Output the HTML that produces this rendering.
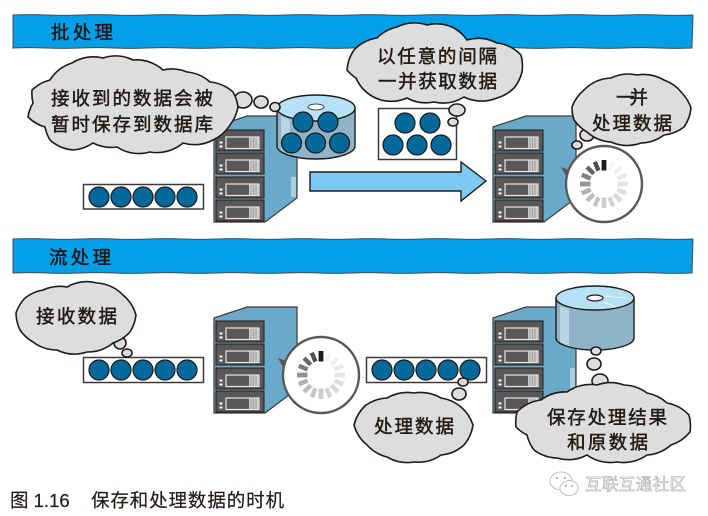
<!DOCTYPE html>
<html><head><meta charset="utf-8">
<style>
html,body{margin:0;padding:0;background:#fff}
svg{display:block}
.h{font-family:"Liberation Sans","Noto Sans CJK SC",sans-serif;font-size:18.5px;fill:#231815;stroke:#231815;stroke-width:.45}
.c{font-family:"Liberation Sans","Noto Sans CJK SC",sans-serif;font-size:18.5px;fill:#231815;stroke:#231815;stroke-width:.2}
.w{font-family:"Liberation Sans","Noto Sans CJK SC",sans-serif;font-size:16.5px;fill:#fff;stroke:#999;stroke-width:.5}
.cl{fill:#dcdddd;stroke:#231815;stroke-width:1.6}
.strip{fill:#fff;stroke:#3e3a39;stroke-width:1.5}
.d{fill:#00689b;stroke:#231815;stroke-width:1.2}
</style></head><body>
<svg width="708" height="516" viewBox="0 0 708 516" xmlns="http://www.w3.org/2000/svg">
<defs>
<g id="panel">
<rect x="0" y="0" width="48" height="21" fill="#595757" stroke="#231815" stroke-width="1"/>
<rect x="10" y="7" width="33" height="11.500" fill="#595757" stroke="#e6e6e6" stroke-width="1.2"/>
<rect x="33" y="7.500" width="10" height="10.500" fill="#c9caca"/>
<path d="M35 7.500v10.500M37.500 7.500v10.500M40 7.500v10.500" stroke="#8a8a8a" stroke-width=".7"/>
<rect x="3.500" y="11.500" width="3" height="2" fill="#fff"/><rect x="3.500" y="15.500" width="3" height="2" fill="#fff"/>
</g>
<g id="server">
<path d="M214 127L247 116H297V198L265 222H214Z" fill="#69a9c9" stroke="#3e3a39" stroke-width="1.2"/>
<use href="#panel" x="216" y="130"/><use href="#panel" x="216" y="153"/>
<use href="#panel" x="216" y="177"/><use href="#panel" x="216" y="200"/>
<rect x="291" y="177" width="5" height="20" fill="#a8cfe0"/>
</g>
<g id="spin">
<circle r="38" fill="#fff" stroke="#595757" stroke-width="2.4"/>
<g>
<rect x="-2.400" y="-24" width="4.800" height="10.500" fill="#231815"/>
<rect x="-2.200" y="-24" width="4.400" height="9.500" fill="#f5f5f5" transform="rotate(22.5)"/>
<rect x="-2.200" y="-24" width="4.400" height="9.500" fill="#efefef" transform="rotate(45)"/>
<rect x="-2.200" y="-24" width="4.400" height="9.500" fill="#e8e8e8" transform="rotate(67.5)"/>
<rect x="-2.400" y="-24" width="4.800" height="10.500" fill="#e4e4e4" transform="rotate(90)"/>
<rect x="-2.200" y="-24" width="4.400" height="9.500" fill="#dedede" transform="rotate(112.5)"/>
<rect x="-2.200" y="-24" width="4.400" height="9.500" fill="#d8d8d8" transform="rotate(135)"/>
<rect x="-2.200" y="-24" width="4.400" height="9.500" fill="#d2d2d2" transform="rotate(157.5)"/>
<rect x="-2.400" y="-24" width="4.800" height="10.500" fill="#cccccc" transform="rotate(180)"/>
<rect x="-2.200" y="-24" width="4.400" height="9.500" fill="#c4c4c4" transform="rotate(202.5)"/>
<rect x="-2.200" y="-24" width="4.400" height="9.500" fill="#bcbcbc" transform="rotate(225)"/>
<rect x="-2.200" y="-24" width="4.400" height="9.500" fill="#b0b0b0" transform="rotate(247.5)"/>
<rect x="-2.400" y="-24" width="4.800" height="10.500" fill="#939393" transform="rotate(270)"/>
<rect x="-2.200" y="-24" width="4.400" height="9.500" fill="#7d7d7d" transform="rotate(292.5)"/>
<rect x="-2.200" y="-24" width="4.400" height="9.500" fill="#666" transform="rotate(315)"/>
<rect x="-2.200" y="-24" width="4.400" height="9.500" fill="#4d4d4d" transform="rotate(337.5)"/>
</g>
</g>
</defs>

<!-- banners -->
<path d="M13 15q17-.7 34 0t34 0t34 0t34 0t34 0t34 0t34 0t34 0t34 0t34 0t34 0t34 0t34 0t34 0t34 0t34 0t34 0t34 0t34 0t34 0L692 48q-17 .7-34 0t-34 0t-34 0t-34 0t-34 0t-34 0t-34 0t-34 0t-34 0t-34 0t-34 0t-34 0t-34 0t-34 0t-34 0t-34 0t-34 0t-34 0t-34 0t-33 0Z" fill="#009fe8" stroke="#4a4a4a" stroke-width="1"/>
<path d="M13 239q17-.7 34 0t34 0t34 0t34 0t34 0t34 0t34 0t34 0t34 0t34 0t34 0t34 0t34 0t34 0t34 0t34 0t34 0t34 0t34 0t34 0L692 273q-17 .7-34 0t-34 0t-34 0t-34 0t-34 0t-34 0t-34 0t-34 0t-34 0t-34 0t-34 0t-34 0t-34 0t-34 0t-34 0t-34 0t-34 0t-34 0t-34 0t-33 0Z" fill="#009fe8" stroke="#4a4a4a" stroke-width="1"/>
<text class="h" x="51" y="39" textLength="62">批处理</text>
<text class="h" x="49" y="264" textLength="62">流处理</text>

<!-- batch: servers -->
<use href="#server"/>
<use href="#server" x="279"/>

<!-- batch: disk -->
<path d="M277 108V146A39 13 0 0 0 355 146V108Z" fill="#8fb3c8" stroke="#231815" stroke-width="1.4"/>
<path d="M281 116L290 120V155L281 150Z" fill="#b5d5e5"/>
<ellipse cx="316" cy="108" rx="39" ry="13" fill="#b6e1f7" stroke="#231815" stroke-width="1.4"/>
<ellipse cx="316" cy="107" rx="8" ry="3" fill="#fff" stroke="#231815" stroke-width=".8"/>
<circle class="d" cx="303" cy="122" r="10"/><circle class="d" cx="328" cy="122" r="10"/>
<circle class="d" cx="291.500" cy="143" r="10"/><circle class="d" cx="315.500" cy="143" r="10"/><circle class="d" cx="339.500" cy="143" r="10"/>

<!-- batch: strip -->
<rect class="strip" x="83.500" y="184.500" width="120" height="24.500"/>
<circle class="d" cx="99" cy="197" r="10"/><circle class="d" cx="121" cy="197" r="10"/><circle class="d" cx="143" cy="197" r="10"/><circle class="d" cx="165" cy="197" r="10"/><circle class="d" cx="187" cy="197" r="10"/>

<!-- batch: box -->
<rect class="strip" x="378.500" y="108.500" width="78" height="51"/>
<circle class="d" cx="405" cy="123" r="10"/><circle class="d" cx="430" cy="123" r="10"/>
<circle class="d" cx="393" cy="145" r="10"/><circle class="d" cx="417" cy="145" r="10"/><circle class="d" cx="441" cy="145" r="10"/>

<!-- arrow -->
<path d="M310 172H461V162L486 181L461 201V191H310Z" fill="#7cc9f2" stroke="#231815" stroke-width="1.4"/>

<!-- batch: clouds -->
<ellipse class="cl" cx="243" cy="100" rx="9" ry="8"/><ellipse class="cl" cx="261" cy="102" rx="7" ry="6"/><ellipse class="cl" cx="275" cy="107" rx="5" ry="4.500"/>
<path class="cl" d="M32 90A40 40 0 0 1 50 80A40 40 0 0 1 72 63A40 40 0 0 1 103 58A40 40 0 0 1 133 60A40 40 0 0 1 163 70A40 40 0 0 1 187 72A40 40 0 0 1 210 82A40 40 0 0 1 233 92A40 40 0 0 1 238 107A40 40 0 0 1 230 125A40 40 0 0 1 213 140A40 40 0 0 1 183 143A40 40 0 0 1 150 152A40 40 0 0 1 117 147A40 40 0 0 1 93 143A40 40 0 0 1 73 150A40 40 0 0 1 50 140A40 40 0 0 1 45 127A40 40 0 0 1 28 117A40 40 0 0 1 33 103A40 40 0 0 1 32 90Z"/>
<text class="h" x="51" y="105" textLength="162">接收到的数据会被</text>
<text class="h" x="51" y="131" textLength="162">暂时保存到数据库</text>

<ellipse class="cl" cx="457" cy="110" rx="8" ry="6"/><ellipse class="cl" cx="453" cy="122" rx="5" ry="4"/>
<path class="cl" d="M354 50A40 40 0 0 1 377 38A40 40 0 0 1 397 27A40 40 0 0 1 427 25A40 40 0 0 1 454 28A40 40 0 0 1 467 40A40 40 0 0 1 497 43A40 40 0 0 1 521 55A40 40 0 0 1 522 72A40 40 0 0 1 514 88A40 40 0 0 1 497 98A40 40 0 0 1 464 97A40 40 0 0 1 434 102A40 40 0 0 1 407 98A40 40 0 0 1 381 100A40 40 0 0 1 364 90A40 40 0 0 1 356 78A40 40 0 0 1 347 70A40 40 0 0 1 354 50Z"/>
<text class="h" x="377" y="63" textLength="120">以任意的间隔</text>
<text class="h" x="378" y="88" textLength="119">一并获取数据</text>

<ellipse class="cl" cx="587" cy="135" rx="7" ry="6"/>
<path class="cl" d="M572 107A40 40 0 0 1 584 90A40 40 0 0 1 611 78A40 40 0 0 1 637 75A40 40 0 0 1 664 80A40 40 0 0 1 682 93A40 40 0 0 1 691 108A40 40 0 0 1 684 127A40 40 0 0 1 664 135A40 40 0 0 1 641 143A40 40 0 0 1 611 142A40 40 0 0 1 587 132A40 40 0 0 1 574 120A40 40 0 0 1 572 107Z"/>
<ellipse class="cl" cx="577" cy="145" rx="5" ry="4"/>
<text class="h" x="616" y="104" textLength="32">一并</text>
<text class="h" x="592" y="130" textLength="80">处理数据</text>

<!-- batch: spinner -->
<path d="M561 167L572 171L567 178Z" fill="#595757"/>
<use href="#spin" x="604" y="184"/>

<!-- stream: servers -->
<use href="#server" y="191"/>
<use href="#server" x="279" y="191"/>

<!-- stream: disk -->
<path d="M556 298V338A39 12 0 0 0 634 338V298Z" fill="#8fb3c8" stroke="#231815" stroke-width="1.4"/>
<path d="M560 306L569 309V346L560 342Z" fill="#b5d5e5"/>
<ellipse cx="595" cy="298" rx="39" ry="12" fill="#b6e1f7" stroke="#231815" stroke-width="1.4"/>
<ellipse cx="595" cy="298" rx="8" ry="3" fill="#fff" stroke="#231815" stroke-width="1.2"/>
<path d="M604 296L626 298M604 302L616 307" stroke="#fff" stroke-width=".8"/>

<!-- stream: strips -->
<rect class="strip" x="83.500" y="357.500" width="120" height="25"/>
<circle class="d" cx="99" cy="370" r="10"/><circle class="d" cx="121" cy="370" r="10"/><circle class="d" cx="143" cy="370" r="10"/><circle class="d" cx="165" cy="370" r="10"/><circle class="d" cx="187" cy="370" r="10"/>
<rect class="strip" x="366.500" y="357.500" width="120" height="25"/>
<circle class="d" cx="382" cy="370" r="10"/><circle class="d" cx="404" cy="370" r="10"/><circle class="d" cx="426" cy="370" r="10"/><circle class="d" cx="448" cy="370" r="10"/><circle class="d" cx="470" cy="370" r="10"/>

<!-- stream: spinner -->
<path d="M278 358L289 362L284 369Z" fill="#595757"/>
<use href="#spin" x="321" y="375"/>

<!-- stream: clouds -->
<ellipse class="cl" cx="120" cy="343" rx="6" ry="6"/><ellipse class="cl" cx="127" cy="353" rx="5" ry="4"/>
<path class="cl" d="M16 313A40 40 0 0 1 25 298A40 40 0 0 1 43 290A40 40 0 0 1 67 287A40 40 0 0 1 97 283A40 40 0 0 1 123 295A40 40 0 0 1 136 315A40 40 0 0 1 130 332A40 40 0 0 1 113 343A40 40 0 0 1 87 352A40 40 0 0 1 57 350A40 40 0 0 1 33 342A40 40 0 0 1 20 330A40 40 0 0 1 16 313Z"/>
<text class="h" x="36" y="323" textLength="81">接收数据</text>

<ellipse class="cl" cx="463" cy="382" rx="5" ry="4"/><ellipse class="cl" cx="459" cy="394" rx="7" ry="6"/>
<path class="cl" d="M354 425A40 40 0 0 1 366 405A40 40 0 0 1 387 398A40 40 0 0 1 414 393A40 40 0 0 1 441 398A40 40 0 0 1 461 407A40 40 0 0 1 473 425A40 40 0 0 1 464 445A40 40 0 0 1 441 455A40 40 0 0 1 414 462A40 40 0 0 1 387 457A40 40 0 0 1 367 445A40 40 0 0 1 354 425Z"/>
<text class="h" x="374" y="433" textLength="80">处理数据</text>

<ellipse class="cl" cx="596" cy="351" rx="5" ry="4"/><ellipse class="cl" cx="594" cy="364" rx="7" ry="6"/><ellipse class="cl" cx="600" cy="381" rx="8" ry="7"/>
<path class="cl" d="M517 412A40 40 0 0 1 541 400A40 40 0 0 1 567 392A40 40 0 0 1 597 385A40 40 0 0 1 624 385A40 40 0 0 1 647 393A40 40 0 0 1 667 403A40 40 0 0 1 689 415A40 40 0 0 1 690 432A40 40 0 0 1 671 445A40 40 0 0 1 647 455A40 40 0 0 1 617 462A40 40 0 0 1 587 455A40 40 0 0 1 557 458A40 40 0 0 1 534 450A40 40 0 0 1 527 435A40 40 0 0 1 516 427A40 40 0 0 1 517 412Z"/>
<text class="h" x="547" y="424" textLength="120">保存处理结果</text>
<text class="h" x="567" y="449" textLength="81">和原数据</text>

<!-- caption -->
<text class="c" x="10" y="507">图 1.16</text>
<text class="c" x="91" y="507" textLength="193">保存和处理数据的时机</text>

<!-- watermark -->
<g fill="#fff" stroke="#b0b0b0" stroke-width=".8">
<ellipse cx="561" cy="481" rx="11" ry="9"/>
<ellipse cx="569" cy="488" rx="9" ry="7.500"/>
<circle cx="557" cy="478" r=".8"/><circle cx="565" cy="478" r=".8"/><circle cx="566" cy="486" r=".8"/><circle cx="572" cy="486" r=".8"/>
</g>
<text class="w" x="585" y="490" textLength="101">互联互通社区</text>
</svg>
</body></html>
